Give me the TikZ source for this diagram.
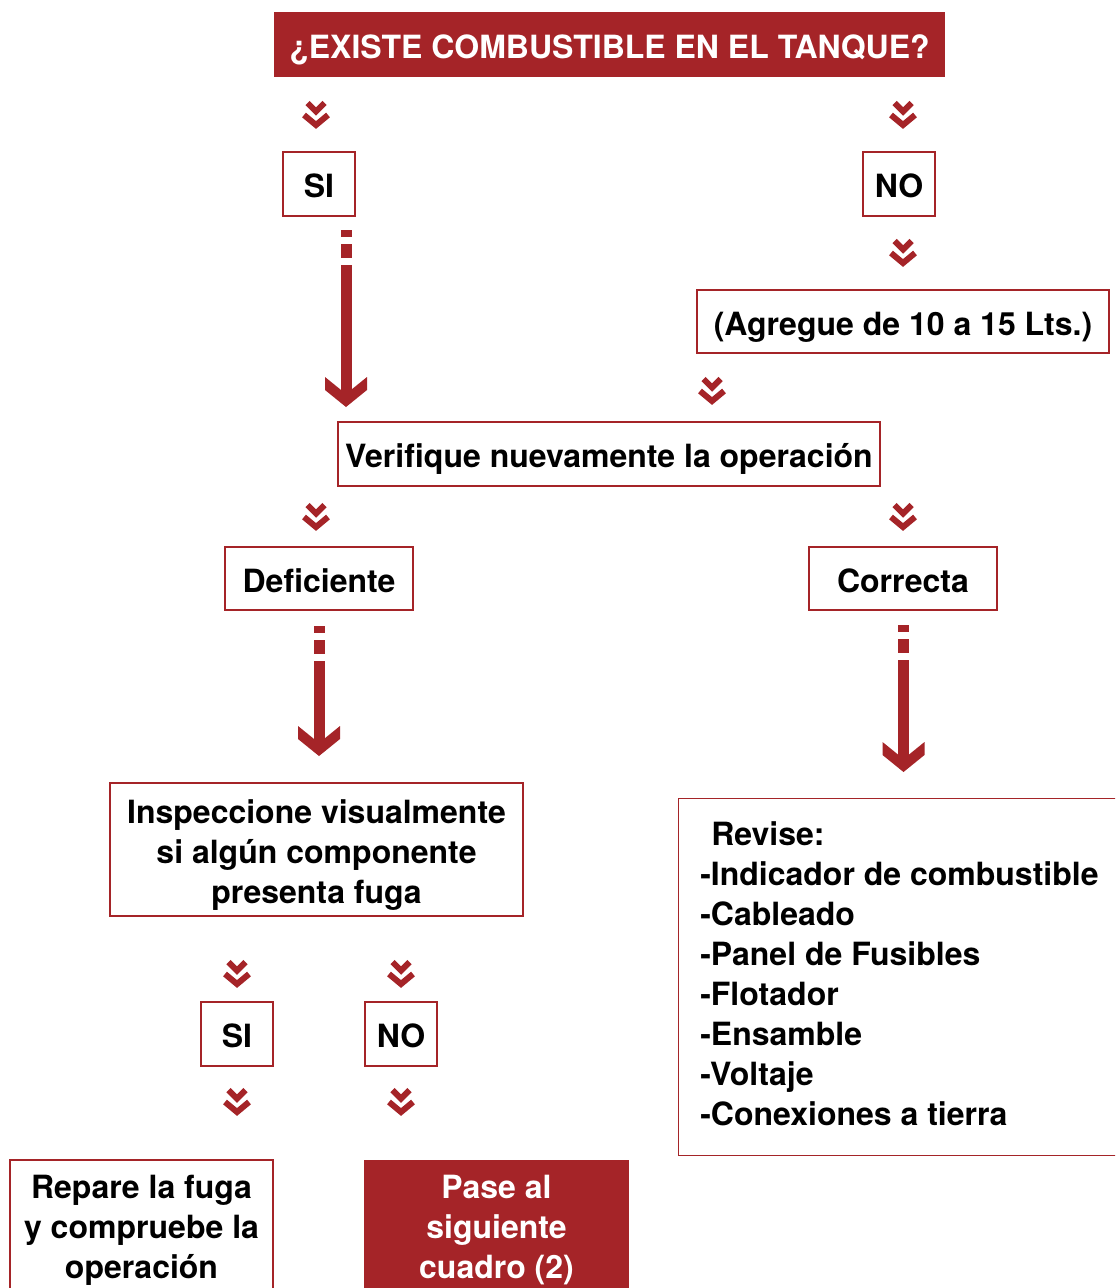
\documentclass[tikz,border=0pt]{standalone}
\usepackage{fontspec}
\setmainfont{TeX Gyre Heros}
\usetikzlibrary{calc}
\definecolor{dk}{HTML}{A52428}
\newcommand\bigarrow[3]{% x, start y, tip y (pixel units)
  \fill[dk] (#1-5.5,#2) rectangle (#1+5.5,#2+7);
  \fill[dk] (#1-5.5,#2+14) rectangle (#1+5.5,#2+28);
  \fill[dk] (#1-5.5,#2+35) rectangle (#1+5.5,#3-11);
  \fill[dk] (#1,#3) -- (#1-21,#3-17) -- (#1-21,#3-30) -- (#1,#3-13)
            -- (#1+21,#3-30) -- (#1+21,#3-17) -- cycle;}
\tikzset{
  txt/.style={font=\bfseries\fontsize{24}{30}\selectfont},
  box/.style={txt, draw=dk, line width=1.1pt, fill=white, inner sep=0pt, align=center, text=black},
  redbox/.style={txt, fill=dk, inner sep=0pt, align=center, text=white},
  sl/.style={text height=20.5pt, text depth=0pt},
  wh/.style 2 args={minimum width=#1*0.75pt, minimum height=#2*0.75pt},
  chev/.pic={
    \draw[dk, line width=4.5pt] (-8.5,-10) -- (0,-1.5) -- (8.5,-10);
    \draw[dk, line width=4.5pt] (-12,2) -- (0,12) -- (12,2);
  }
}
\begin{document}
\begin{tikzpicture}[x=0.75pt,y=-0.75pt]
\clip (0,0) rectangle (1115,1288);
\fill[white] (0,0) rectangle (1115,1288);

% nodes
\node[redbox, sl, wh={671}{65}] (title) at (609.5,44.5) {¿EXISTE COMBUSTIBLE EN EL TANQUE?};
\node[box, sl, wh={72}{64}] (si1) at (319,184) {SI};
\node[box, sl, wh={72}{64}] (no1) at (899,184) {NO};
\node[box, sl, wh={412}{63}] (agr) at (903,321.5) {(Agregue de 10 a 15 Lts.)};
\node[box, sl, wh={542}{64}] (ver) at (609,454) {Verifique nuevamente la operación};
\node[box, sl, wh={188}{63}] (def) at (319,578.5) {Deficiente};
\node[box, sl, wh={188}{63}] (cor) at (903,578.5) {Correcta};
\node[box, wh={413}{133}] (insp) at (316.5,849.5) {};
\node[txt, align=center, inner sep=0pt] (insptxt) at ($(insp.center)+(0,6)$)
  {Inspeccione visualmente\\si algún componente\\presenta fuga};
\node[box, anchor=north west, wh={460}{357}] (rev) at (678,798) {};
\node[txt, align=left, anchor=west, inner sep=0pt] (revtxt) at (700,973.5)
  {\hspace*{8.25pt}Revise:\\-Indicador de combustible\\-Cableado\\-Panel de Fusibles\\-Flotador\\-Ensamble\\-Voltaje\\-Conexiones a tierra};
\node[box, sl, wh={72}{64}] (si2) at (237,1034) {SI};
\node[box, sl, wh={72}{64}] (no2) at (401,1034) {NO};
\node[box, wh={263}{140}] (rep) at (141.5,1230) {Repare la fuga\\y compruebe la\\operación};
\node[redbox, wh={265}{140}] (pase) at (496.5,1230) {Pase al\\siguiente\\cuadro (2)};

% chevron connectors
\pic at (316,113) {chev};
\pic at (903,113) {chev};
\pic at (903,251) {chev};
\pic at (712,389) {chev};
\pic at (316,515) {chev};
\pic at (903,515) {chev};
\pic at (237,972) {chev};
\pic at (401,972) {chev};
\pic at (237,1100) {chev};
\pic at (401,1100) {chev};

% long dashed arrows
\bigarrow{346}{230}{407}
\bigarrow{319}{626}{756}
\bigarrow{903.5}{625}{772}
\end{tikzpicture}
\end{document}
